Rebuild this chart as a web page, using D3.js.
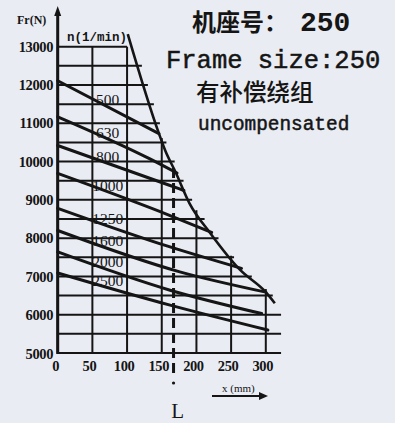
<!DOCTYPE html>
<html><head><meta charset="utf-8">
<script src="https://cdn.jsdelivr.net/npm/d3@7"></script>
<style>body{margin:0;background:#e9ecf3}svg{display:block}</style>
</head><body><svg id="c" width="395" height="423"></svg>
<script>
// ---- data ----
const speeds = ["500","630","800","1000","1250","1600","2000","2500"];
const lineX = [[0,146],[0,133,172],[0,162,182],[0,162,222],[0,162,265],[0,176,300],[0,162,294],[0,162,303]];
const lineY = [[12110,10729],[11170,10070,9700],[10420,9375,9245],[9690,8590,8150],[8780,7770,7210],[8200,7120,6590],[7640,6640,6030],[7090,6250,5600]];
const envX = [101,146,155,170,190,220,263,300,313];
const envY = [13330,10730,10290,9720,8910,8130,7170,6590,6300];
const xTicks = [0,50,100,150,200,250,300];
const yTicks = [5000,6000,7000,8000,9000,10000,11000,12000,13000];
const gridYs = [5000,5500,6000,6500,7000,7500,8000,8500,9000,9500,10000,10500,11000,11500,12000,12500,13000];
const markX = 167;
const titleCN = "机座号：", titleNum = "250", titleEN = "Frame size:250";
const subCN = "有补偿绕组", subEN = "uncompensated";

// ---- scales ----
const x = d3.scaleLinear().domain([0,300]).range([57.7,265.8]);
const y = d3.scaleLinear().domain([5000,13000]).range([353,46.7]);
const svg = d3.select("#c");
const ink = "#151515";

function envXatY(v){
  if (v >= envY[0]) return envX[0];
  for (let i=0;i<envY.length-1;i++){
    if (v<=envY[i] && v>=envY[i+1]) return envX[i] + (envX[i+1]-envX[i])*(envY[i]-v)/(envY[i]-envY[i+1]);
  }
  return 330;
}
function envYatX(u){
  if (u <= envX[0]) return 13000;
  for (let i=0;i<envX.length-1;i++){
    if (u>=envX[i] && u<=envX[i+1]) return envY[i] + (envY[i+1]-envY[i])*(u-envX[i])/(envX[i+1]-envX[i]);
  }
  return 5000;
}

// grid
const g = svg.append("g");
g.selectAll("line.h").data(gridYs).join("line")
  .attr("x1", x(0)).attr("x2", d => x(Math.min(d>=13000?100:envXatY(d)+6, 322)))
  .attr("y1", d=>y(d)).attr("y2", d=>y(d))
  .attr("stroke", ink).attr("stroke-width", 2);
g.selectAll("line.v").data(xTicks).join("line")
  .attr("x1", d=>x(d)).attr("x2", d=>x(d))
  .attr("y1", y(5000)).attr("y2", d => y(Math.min(13000, envYatX(d)+80)))
  .attr("stroke", ink).attr("stroke-width", 2);

// y axis
svg.append("line").attr("x1", x(0)).attr("x2", x(0)).attr("y1", y(5000)+1).attr("y2", 14)
  .attr("stroke", ink).attr("stroke-width", 3);
svg.append("path").attr("d", `M${x(0)-3.5},16 L${x(0)},6 L${x(0)+3.5},16 Z`).attr("fill", ink);

// envelope
const curve = d3.line().x(d=>x(d[0])).y(d=>y(d[1])).curve(d3.curveMonotoneX);
svg.append("path").attr("d", curve(envX.map((v,i)=>[v,envY[i]])))
  .attr("fill","none").attr("stroke", ink).attr("stroke-width", 2.6);

// speed lines
speeds.forEach((s,k)=>{
  const pts = lineX[k].map((v,i)=>[v,lineY[k][i]]);
  svg.append("path").attr("d", curve(pts)).attr("fill","none")
    .attr("stroke", ink).attr("stroke-width", 3).attr("stroke-linecap","round");
  const xs = lineX[k], ys = lineY[k];
  let v = ys[0] + (ys[1]-ys[0])*(72-xs[0])/(xs[1]-xs[0]);
  svg.append("text").attr("x", x(72)).attr("y", y(v)-7).attr("dy","0.35em")
    .attr("text-anchor","middle").attr("font-family","Liberation Serif").attr("font-size",15.5)
    .attr("fill", ink).text(s);
});

// dashed L line
svg.append("line").attr("x1", x(markX)).attr("x2", x(markX))
  .attr("y1", y(envYatX(markX))).attr("y2", 374)
  .attr("stroke", ink).attr("stroke-width", 3).attr("stroke-dasharray","10,5");
svg.append("circle").attr("cx", x(markX)).attr("cy", 383).attr("r", 1.6).attr("fill", ink);
svg.append("text").attr("x", x(markX)+4).attr("y", 418).attr("text-anchor","middle")
  .attr("font-family","Liberation Serif").attr("font-size",21).attr("fill",ink).text("L");

// tick labels
svg.selectAll("text.yt").data(yTicks).join("text")
  .attr("x", 53).attr("y", d => y(d) + (d===5000?1:0)).attr("dy","0.35em").attr("text-anchor","end")
  .attr("font-family","Liberation Serif").attr("font-weight","bold").attr("font-size",14.5)
  .attr("fill", ink).attr("letter-spacing","-0.4").text(d=>d);
svg.selectAll("text.xt").data(xTicks).join("text")
  .attr("x", d=>x(d)-3 + (d===0?1:0)).attr("y", 366).attr("dy","0.35em").attr("text-anchor","middle")
  .attr("font-family","Liberation Serif").attr("font-weight","bold").attr("font-size",14.5)
  .attr("fill", ink).attr("letter-spacing","-0.4").text(d=>d);

// axis titles
svg.append("text").attr("x",17).attr("y",24).attr("font-family","Liberation Serif").attr("font-weight","bold")
  .attr("font-size",12).attr("fill",ink).text("Fr(N)");
svg.append("text").attr("x",67).attr("y",41).attr("font-family","Liberation Mono").attr("font-weight","bold")
  .attr("font-size",12.5).attr("fill",ink).text("n(1/min)");
svg.append("text").attr("x",222).attr("y",392).attr("font-family","Liberation Serif")
  .attr("font-size",11).attr("fill",ink).text("x (mm)");
svg.append("line").attr("x1",212).attr("x2",262).attr("y1",396).attr("y2",396).attr("stroke",ink).attr("stroke-width",2);
svg.append("path").attr("d","M259,392 L268,396 L259,400 Z").attr("fill",ink);

// titles
svg.append("text").attr("x",192).attr("y",31).attr("font-family","Noto Sans CJK SC").attr("font-weight","bold")
  .attr("font-size",24).attr("fill",ink).text(titleCN);
svg.append("text").attr("x",300).attr("y",31).attr("font-family","Liberation Mono").attr("font-weight","bold")
  .attr("font-size",28).attr("fill",ink).text(titleNum);
svg.append("text").attr("x",166).attr("y",68).attr("font-family","Liberation Mono")
  .attr("font-size",25.5).attr("fill",ink).attr("stroke",ink).attr("stroke-width",0.5).text(titleEN);
svg.append("text").attr("x",196).attr("y",101).attr("font-family","Noto Sans CJK SC").attr("font-weight","500")
  .attr("font-size",23.5).attr("fill",ink).text(subCN);
svg.append("text").attr("x",198).attr("y",130).attr("font-family","Liberation Mono")
  .attr("font-size",19.4).attr("fill",ink).attr("stroke",ink).attr("stroke-width",0.5).text(subEN);
</script></body></html>
